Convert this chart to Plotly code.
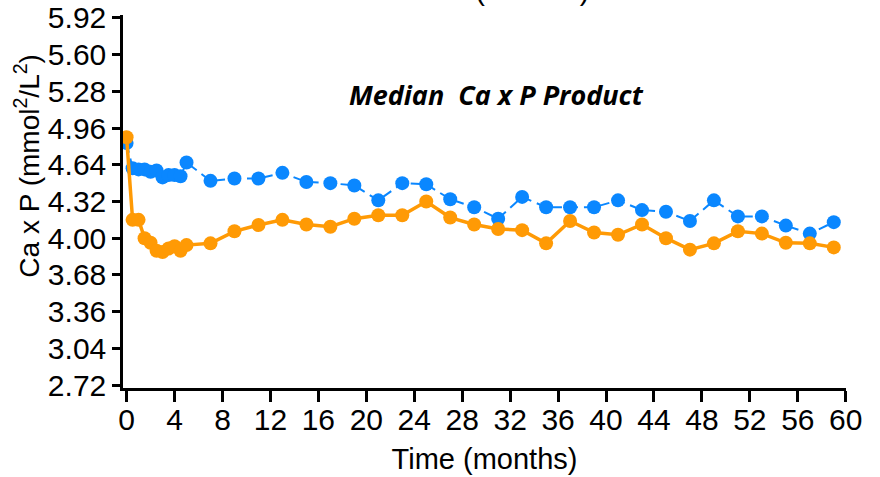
import plotly.graph_objects as go

# Time points (months)
months_early = [0, 0.5, 1, 1.5, 2, 2.5, 3, 3.5, 4, 4.5, 5]
months_late = list(range(7, 60, 2))
months = months_early + months_late

# Median Ca x P product, blue series (dashed)
blue_vals = [4.83, 4.61, 4.60, 4.60, 4.58, 4.59, 4.53, 4.55, 4.55, 4.54, 4.66,
             4.50, 4.52, 4.52, 4.57, 4.49, 4.48, 4.46, 4.33, 4.48, 4.47,
             4.34, 4.27, 4.17, 4.36, 4.27, 4.27, 4.27, 4.33, 4.245, 4.23,
             4.15, 4.33, 4.19, 4.19, 4.11, 4.04, 4.14]

# Median Ca x P product, orange series (solid)
orange_vals = [4.88, 4.16, 4.16, 4.00, 3.96, 3.89, 3.88, 3.91, 3.93, 3.89, 3.94,
               3.955, 4.06, 4.115, 4.16, 4.12, 4.10, 4.17, 4.20, 4.20, 4.32,
               4.18, 4.12, 4.08, 4.07, 3.955, 4.15, 4.05, 4.03, 4.12, 4.00,
               3.90, 3.955, 4.06, 4.04, 3.96, 3.955, 3.92]

y_ticks = [2.72, 3.04, 3.36, 3.68, 4.00, 4.32, 4.64, 4.96, 5.28, 5.60, 5.92]
x_ticks = list(range(0, 61, 4))

BLUE = "#0a87ff"
ORANGE = "#ff9a05"
FONT = "Liberation Sans, Arial, sans-serif"

fig = go.Figure()
fig.add_trace(go.Scatter(
    x=months, y=blue_vals, mode="lines+markers",
    line=dict(color=BLUE, width=2, dash="10px,6px"),
    marker=dict(color=BLUE, size=14),
    showlegend=False,
))
fig.add_trace(go.Scatter(
    x=months, y=orange_vals, mode="lines+markers",
    line=dict(color=ORANGE, width=3.5),
    marker=dict(color=ORANGE, size=14),
    showlegend=False,
))

fig.update_layout(
    width=880, height=477,
    margin=dict(l=123, r=34, t=15, b=89, autoexpand=False),
    paper_bgcolor="white", plot_bgcolor="white",
    font=dict(family=FONT, color="black", size=30),
    xaxis=dict(
        range=[-0.3, 60.02], tickvals=x_ticks, ticktext=[str(t) for t in x_ticks],
        showline=True, linecolor="black", linewidth=2.5,
        ticks="outside", ticklen=11, tickwidth=2.5, tickcolor="black",
        ticklabelstandoff=-8, automargin=False,
        showgrid=False, zeroline=False,
        tickfont=dict(size=30),
        title=dict(text="Time (months)", font=dict(size=29), standoff=14),
    ),
    yaxis=dict(
        range=[2.694, 5.946], tickvals=y_ticks, ticktext=[f"{v:.2f}" for v in y_ticks],
        showline=True, linecolor="black", linewidth=2.5,
        ticks="outside", ticklen=8, tickwidth=2.5, tickcolor="black",
        automargin=False,
        showgrid=False, zeroline=False,
        tickfont=dict(size=30),
    ),
    annotations=[
        dict(text="Ca x P (mmol<sup>2</sup>/L<sup>2</sup>)", x=-0.132, y=0.595,
             xref="paper", yref="paper", textangle=-90, showarrow=False,
             xanchor="center", yanchor="middle",
             font=dict(size=28, color="black")),
        dict(text="<b><i>Median  Ca x P Product</i></b>", x=30.9, y=5.25,
             xref="x", yref="y", showarrow=False,
             font=dict(family="Open Sans, sans-serif", size=27, color="black")),
        dict(text="Ca (mmol/L)", x=0.649, y=1, xref="paper", yref="paper",
             xanchor="right", yanchor="bottom", yshift=7, showarrow=False,
             font=dict(size=29, color="black")),
    ],
)

fig.write_html("out.html")
